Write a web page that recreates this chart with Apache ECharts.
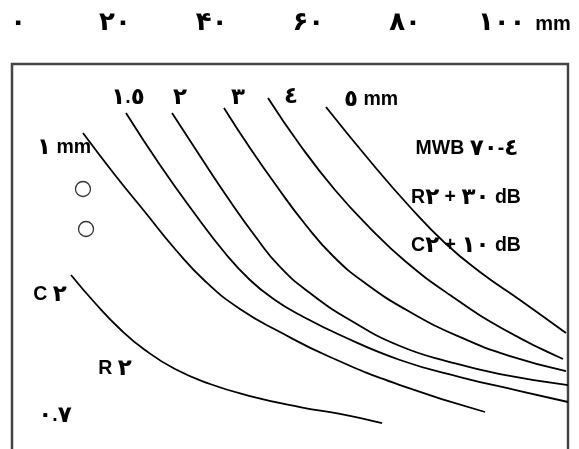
<!DOCTYPE html>
<html><head><meta charset="utf-8">
<script src="https://cdn.jsdelivr.net/npm/echarts@6/dist/echarts.min.js"></script>
<style>html,body{margin:0;padding:0;background:#fff}#c{width:579px;height:449px}</style>
</head><body><div id="c"></div>
<script>
// top axis tick values and labels (mm)
var tickValues = [0, 20, 40, 60, 80, 100];
var tickLabels = ["۰", "۲۰", "۴۰", "۶۰", "۸۰", "۱۰۰"];
// curves: [x (mm along top scale), depth (mm down from top edge)]
var curve1mm  = [[13.38,14.27],[20.00,22.96],[26.21,30.62],[32.42,38.27],[38.62,44.89],[45.86,50.68],[54.14,55.44],[64.48,60.61],[78.96,66.41],[96.55,71.99]];
var curve15mm = [[22.28,10.14],[29.31,20.89],[36.55,31.03],[42.76,39.10],[47.93,44.68],[53.10,48.82],[58.28,51.92],[66.55,56.06],[78.96,61.23],[91.37,64.75],[103.79,67.65],[113.72,69.92]];
var curve2mm  = [[31.80,10.14],[37.59,19.03],[43.79,28.34],[48.97,35.58],[54.14,41.99],[60.34,47.37],[68.62,52.96],[78.96,58.34],[89.31,61.65],[99.65,64.13],[113.72,66.41]];
var curve3mm  = [[42.55,9.10],[47.93,17.38],[53.72,25.65],[59.31,33.10],[65.10,39.72],[71.72,45.30],[81.03,51.30],[91.37,56.48],[101.72,60.41],[113.30,63.51]];
var curve4mm  = [[51.66,7.03],[58.28,16.76],[65.52,26.07],[72.76,33.93],[80.00,40.75],[89.31,47.79],[100.68,55.03],[112.68,61.03]];
var curve5mm  = [[63.65,8.90],[72.76,20.07],[81.03,29.58],[88.27,37.03],[95.51,43.03],[103.79,48.82],[113.30,55.65]];
var curveLow  = [[10.90,43.65],[15.87,49.44],[21.04,54.82],[26.21,59.16],[32.42,63.10],[39.66,66.20],[47.93,68.68],[58.28,70.96],[66.55,72.40],[75.24,74.27]];
var holes = [[13.38,25.86],[14.01,34.13]];

var curves = [curve1mm, curve15mm, curve2mm, curve3mm, curve4mm, curve5mm, curveLow];
var LAT = '"Liberation Sans", Arial, sans-serif';
var AR = '"DejaVu Sans", sans-serif';
var texts = [
  ['١.٥', 128, 98], ['٢', 180, 98], ['٣', 238, 98], ['٤', 291, 97], ['٥ mm', 371, 100],
  ['١ mm', 64, 148], ['MWB ٧٠-٤', 467, 149],
  ['R٢ + ٣٠ dB', 466, 198], ['C٢ + ١٠ dB', 466, 246],
  ['C ٢', 50, 295], ['R ٢', 115, 369], ['٠.٧', 55, 416]
];
var richStyles = {
  a: { fontFamily: AR, fontWeight: 'bold', fontSize: 23, color: '#000' },
  l: { fontFamily: LAT, fontWeight: 'bold', fontSize: 19.5, color: '#000' },
  t: { fontFamily: AR, fontWeight: 'bold', fontSize: 26, color: '#000' }
};
function toRich(s, arStyle) {
  return s.split(/([\u0660-\u0669\u06F0-\u06F9]+)/).filter(function (p) { return p.length; })
    .map(function (p) { return /[\u0660-\u0669\u06F0-\u06F9]/.test(p) ? '{' + arStyle + '|' + p + '}' : '{l|' + p + '}'; }).join('');
}

var chart = echarts.init(document.getElementById('c'));
var series = curves.map(function (d) {
  return { type: 'line', data: d, smooth: 0.5, symbol: 'none',
    lineStyle: { color: '#000', width: 1.8 }, silent: true };
});
series.push({ type: 'scatter', data: holes, symbol: 'circle', symbolSize: 15,
  itemStyle: { color: '#fff', borderColor: '#000', borderWidth: 1.3 } });

var graphics = texts.map(function (t) {
  return { type: 'text', x: t[1], y: t[2], z: 100,
    style: { text: toRich(t[0], 'a'), rich: richStyles, align: 'center', verticalAlign: 'middle' } };
});
graphics.push({ type: 'text', x: 553, y: 24, z: 100,
  style: { text: 'mm', fill: '#000', font: 'bold 20px ' + LAT, align: 'center', verticalAlign: 'middle' } });

chart.setOption({
  animation: false,
  backgroundColor: '#fff',
  grid: { left: 12, right: 11, top: 64, height: 405, outerBoundsMode: 'none', containLabel: false,
    show: true, borderColor: '#444', borderWidth: 2.5, backgroundColor: '#fff' },
  xAxis: { type: 'value', position: 'top', min: -1.303, max: 113.72,
    axisLine: { show: false }, axisTick: { show: false }, splitLine: { show: false },
    axisLabel: { customValues: tickValues, margin: 28, rich: richStyles,
      formatter: function (v) { var i = tickValues.indexOf(v); return i >= 0 ? toRich(tickLabels[i], 't') : ''; } } },
  yAxis: { type: 'value', inverse: true, min: 0, max: 83.78, show: false },
  series: series,
  graphic: graphics
});
</script></body></html>
